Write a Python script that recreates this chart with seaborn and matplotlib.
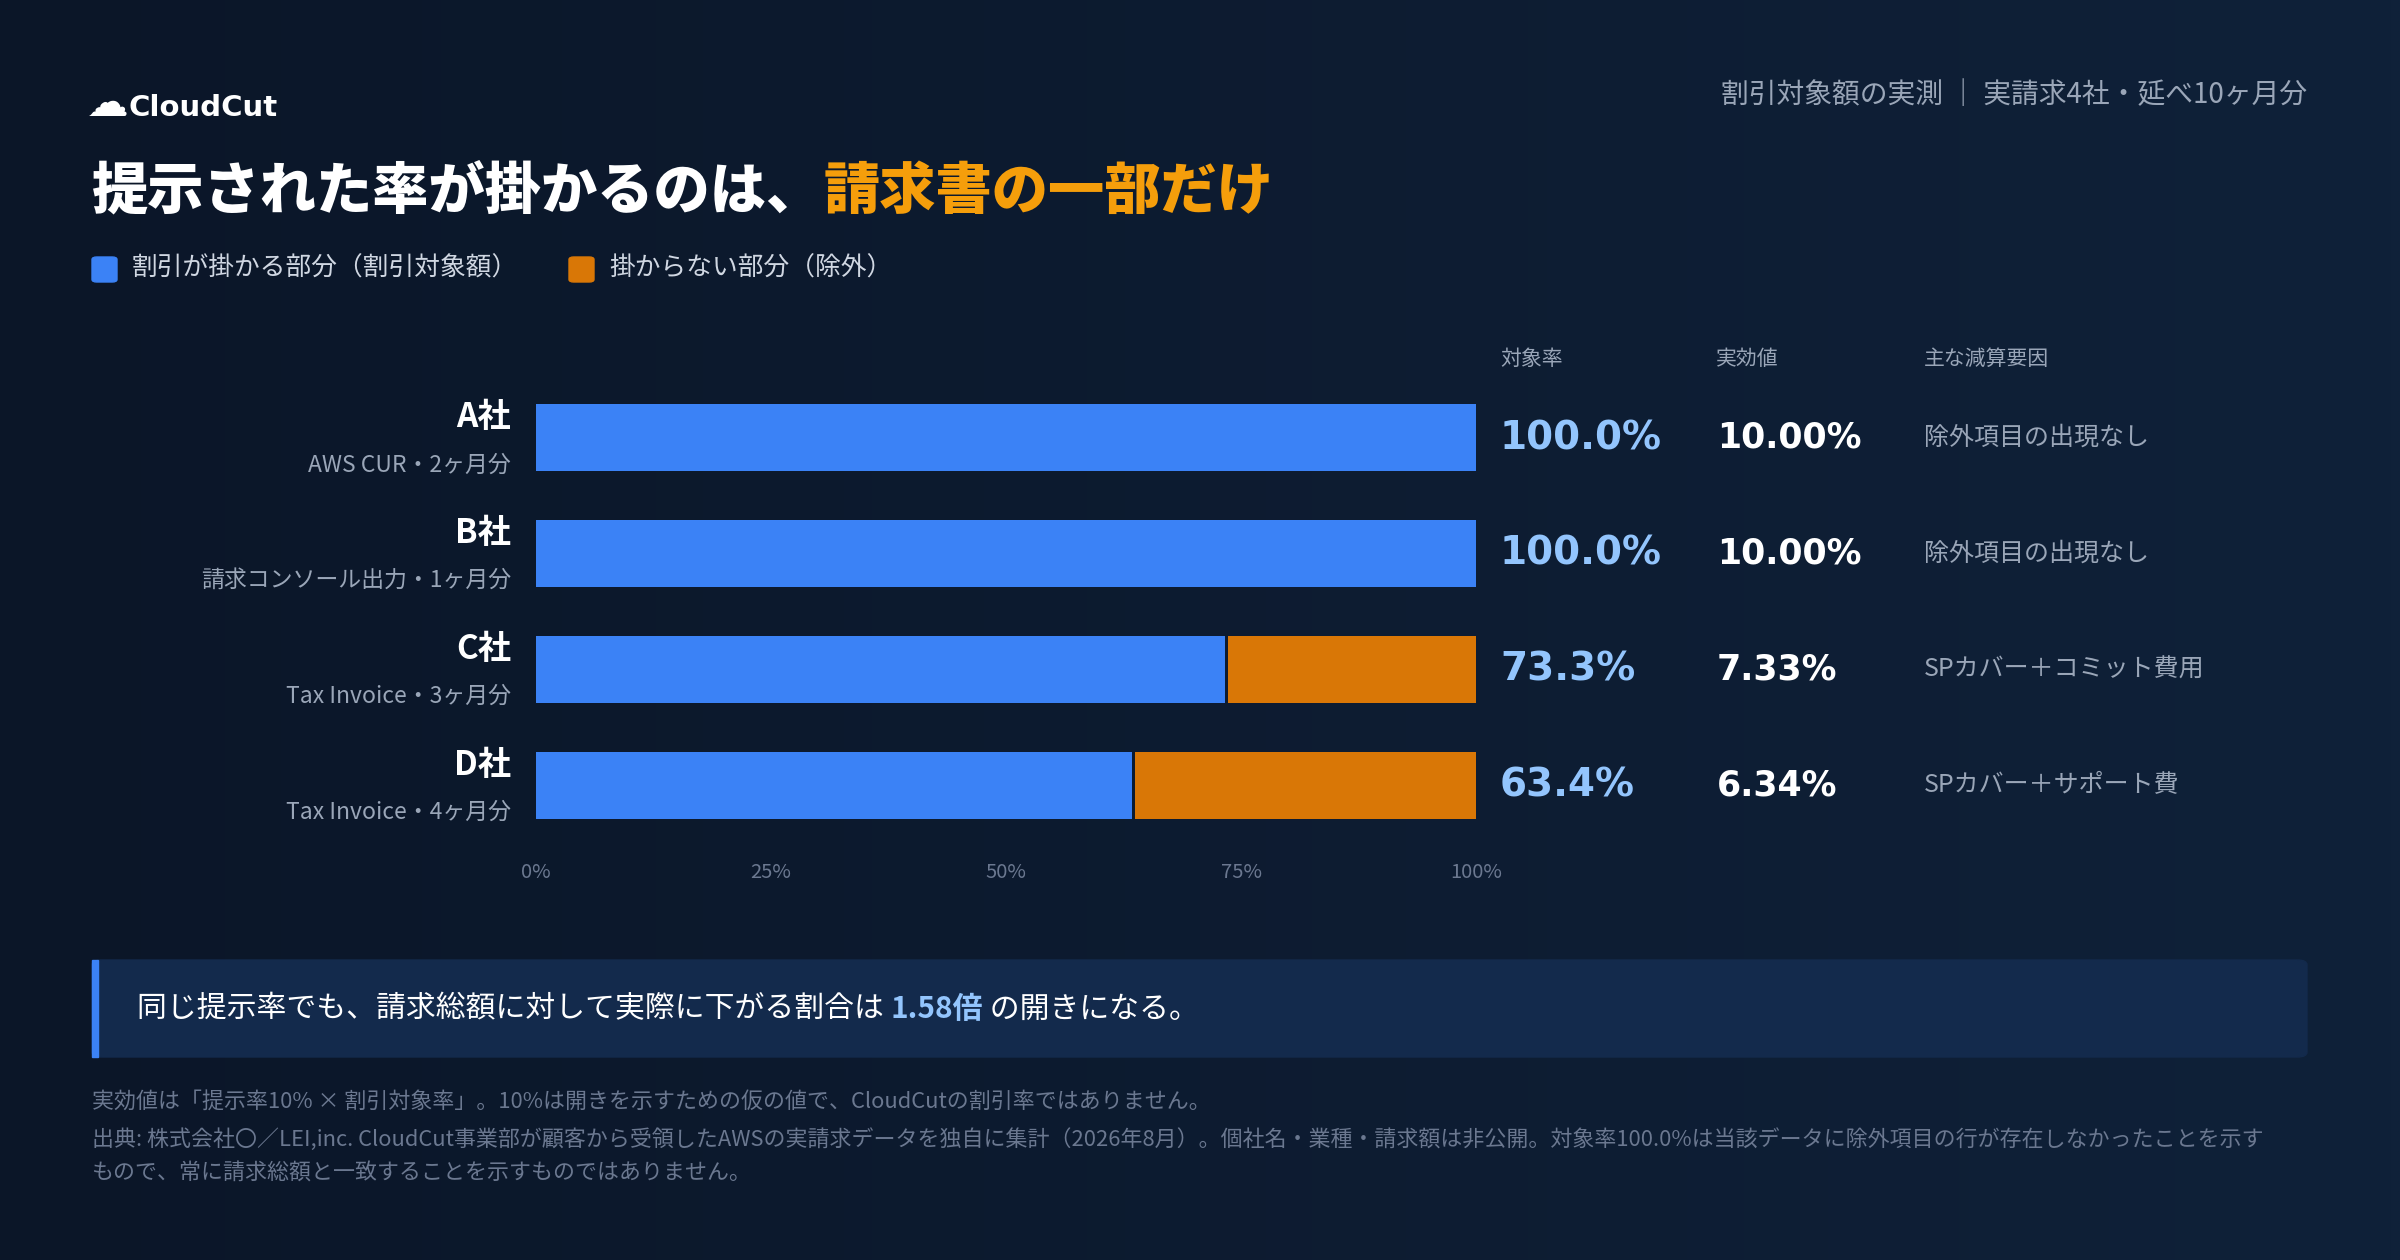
"""CloudCut: 提示率が掛かる割合の比較チャート"""
import numpy as np
import pandas as pd
import seaborn as sns
import matplotlib.pyplot as plt
from matplotlib.patches import FancyBboxPatch, Rectangle

sns.set_theme(style="dark")
plt.rcParams['font.family'] = ['Noto Sans CJK JP', 'DejaVu Sans']

# data
companies = ["A社", "B社", "C社", "D社"]
sources = ["AWS CUR・2ヶ月分", "請求コンソール出力・1ヶ月分", "Tax Invoice・3ヶ月分", "Tax Invoice・4ヶ月分"]
coverage = [100.0, 100.0, 73.3, 63.4]
effective = [10.00, 10.00, 7.33, 6.34]
reasons = ["除外項目の出現なし", "除外項目の出現なし", "SPカバー＋コミット費用", "SPカバー＋サポート費"]
ticks = [0, 25, 50, 75, 100]

BG = "#0c1a2e"
BLUE = "#3b82f6"
ORANGE = "#d97706"
LIGHT = "#93c5fd"
GRAY = "#9aa6b8"
DIM = "#6b7890"

df = pd.DataFrame({"company": companies, "coverage": coverage, "total": [100] * 4})

W, H = 2400, 1260
fig = plt.figure(figsize=(24, 12.6), dpi=100, facecolor=BG)

def fx(px): return px / W
def fy(py): return 1 - py / H

# background gradient
bg = fig.add_axes([0, 0, 1, 1], zorder=-10)
grad = np.linspace(0, 1, 256).reshape(1, -1)
bg.imshow(grad, cmap=plt.matplotlib.colors.LinearSegmentedColormap.from_list("g", ["#0b1628", "#0f2139"]),
          aspect="auto", extent=[0, 1, 0, 1])
bg.set_axis_off()

# bars
ax = fig.add_axes([fx(536), fy(843), fx(1476) - fx(536), (843 - 380) / H])
ax.set_facecolor("none")
sns.barplot(data=df, y="company", x="total", color=ORANGE, width=0.58, ax=ax,
            saturation=1, linewidth=0)
sns.barplot(data=df, y="company", x="coverage", color=BLUE, width=0.58, ax=ax,
            saturation=1, linewidth=0)
for p, cov in zip(ax.patches[:4], coverage):
    if cov < 100:
        p.set_x(cov + 0.35)
        p.set_width(100 - cov - 0.35)
ax.set_xlim(0, 100)
ax.set_ylim(3.5, -0.5)
ax.set_xticks(ticks)
ax.set_xticklabels([f"{t}%" for t in ticks], color=DIM, fontsize=14.5)
ax.tick_params(axis="x", length=0, pad=14)
ax.set_yticks([])
ax.set_xlabel("")
ax.set_ylabel("")
ax.grid(False)
for s in ax.spines.values():
    s.set_visible(False)

# row labels and values
for i in range(4):
    yc = 438 + i * 115.7
    fig.text(fx(511), fy(yc - 20), companies[i], color="white", fontsize=24, fontweight="bold",
             ha="right", va="center")
    fig.text(fx(511), fy(yc + 27), sources[i], color=GRAY, fontsize=16.5, ha="right", va="center")
    fig.text(fx(1500), fy(yc), f"{coverage[i]:.1f}%", color=LIGHT, fontsize=28, fontweight="bold",
             ha="left", va="center", family=["DejaVu Sans"])
    fig.text(fx(1717), fy(yc), f"{effective[i]:.2f}%", color="white", fontsize=25, fontweight="bold",
             ha="left", va="center", family=["DejaVu Sans"])
    fig.text(fx(1924), fy(yc), reasons[i], color=GRAY, fontsize=18, ha="left", va="center")

for x, t in [(1500, "対象率"), (1716, "実効値"), (1924, "主な減算要因")]:
    fig.text(fx(x), fy(359), t, color=GRAY, fontsize=15, ha="left", va="center")

# header
fig.text(fx(128), fy(108), "CloudCut", color="white", fontsize=21, fontweight="bold",
         ha="left", va="center", family=["DejaVu Sans"])
fig.text(fx(108), fy(104), "☁", color="white", fontsize=30, ha="center", va="center",
         family=["DejaVu Sans"])
fig.text(fx(2307), fy(95), "割引対象額の実測 ｜ 実請求4社・延べ10ヶ月分", color=GRAY, fontsize=20,
         ha="right", va="center")
t1 = fig.text(fx(92), fy(192), "提示された率が掛かるのは、", color="white", fontsize=40.5,
              fontweight="black", ha="left", va="center")
fig.canvas.draw()
bb = t1.get_window_extent()
fig.text(bb.x1 / W, fy(192), "請求書の一部だけ", color="#f59e0b", fontsize=40.5,
         fontweight="black", ha="left", va="center")

# legend
for x, c, t in [(92, BLUE, "割引が掛かる部分（割引対象額）"), (569, ORANGE, "掛からない部分（除外）")]:
    fig.patches.append(FancyBboxPatch((fx(x), fy(282)), fx(25), 25 / H,
                                      boxstyle="round,pad=0,rounding_size=0.002",
                                      transform=fig.transFigure, color=c))
    fig.text(fx(x + 40), fy(269), t, color="#d0d7e2", fontsize=18.5, ha="left", va="center")

# callout
fig.patches.append(FancyBboxPatch((fx(92), fy(1057)), fx(2307 - 92), 97 / H,
                                  boxstyle="round,pad=0,rounding_size=0.004",
                                  transform=fig.transFigure, color="#132a4c"))
fig.patches.append(Rectangle((fx(92), fy(1057)), fx(6), 97 / H, transform=fig.transFigure,
                             color=BLUE))
c1 = fig.text(fx(137), fy(1009), "同じ提示率でも、請求総額に対して実際に下がる割合は ", color="white",
              fontsize=21.5, ha="left", va="center")
fig.canvas.draw()
x1 = c1.get_window_extent().x1
c2 = fig.text(x1 / W, fy(1009), "1.58倍", color=LIGHT, fontsize=21.5, fontweight="bold",
              ha="left", va="center")
fig.canvas.draw()
x2 = c2.get_window_extent().x1
fig.text(x2 / W, fy(1009), " の開きになる。", color="white", fontsize=21.5, ha="left", va="center")

# footnotes
notes = [
    "実効値は「提示率10% × 割引対象率」。10%は開きを示すための仮の値で、CloudCutの割引率ではありません。",
    "出典: 株式会社〇／LEI,inc. CloudCut事業部が顧客から受領したAWSの実請求データを独自に集計（2026年8月）。個社名・業種・請求額は非公開。対象率100.0%は当該データに除外項目の行が存在しなかったことを示す",
    "もので、常に請求総額と一致することを示すものではありません。",
]
for y, n in zip([1103, 1140, 1174], notes):
    fig.text(fx(92), fy(y), n, color=DIM, fontsize=15.8, ha="left", va="center")

fig.savefig("out.png", dpi=100, facecolor=BG)
